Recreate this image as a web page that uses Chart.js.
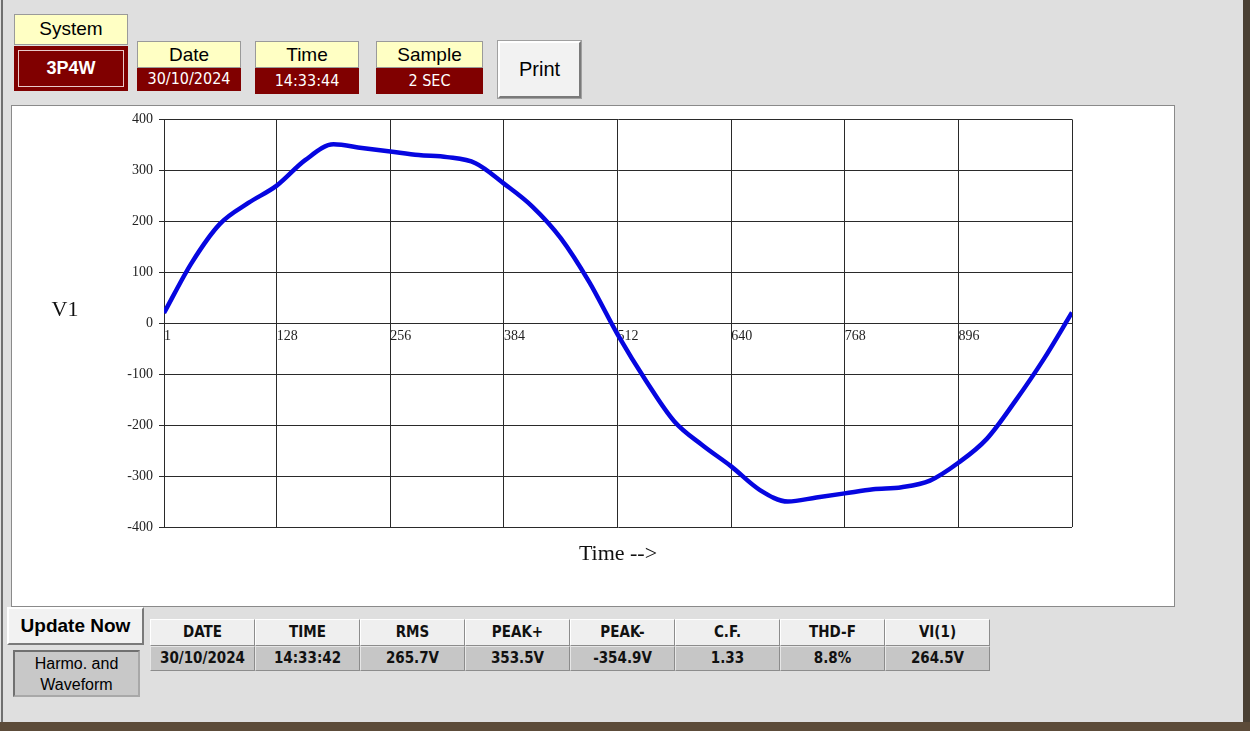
<!DOCTYPE html>
<html>
<head>
<meta charset="utf-8">
<script src="https://cdn.jsdelivr.net/npm/chart.js@4.4.1/dist/chart.umd.min.js"></script>
<style>
  html, body { margin: 0; padding: 0; }
  body { width: 1250px; height: 731px; background: #dfdfdf; position: relative; overflow: hidden; font-family: Arial, "Liberation Sans", sans-serif; }
  .abs { position: absolute; box-sizing: border-box; }
  .lbl { background: #ffffc4; border: 1px solid #9a9a9a; color: #000; text-align: center; font-size: 19px; }
  .val { background: #800000; color: #fff; text-align: center; font-family: "Liberation Sans Narrow", "DejaVu Sans Condensed", Arial, sans-serif; font-size: 16px; }
  .btn { background: #f2f2f2; border: 2px solid; border-color: #ffffff #7a7a7a #7a7a7a #ffffff; outline: 1px solid #a0a0a0; text-align: center; }
  .cell { border: 1px solid; text-align: center; font-family: "Liberation Sans Narrow", "DejaVu Sans Condensed", Arial, sans-serif; font-size: 15px; font-weight: bold; color: #111; }
  .head { background: #efefef; border-color: #ffffff #8c8c8c #8c8c8c #ffffff; }
  .data { background: #c6c6c6; border-color: #e6e6e6 #8c8c8c #8c8c8c #e6e6e6; }
</style>
</head>
<body>
<div class="abs" style="left:1px;top:0;width:2px;height:723px;background:#6f6f6f;"></div>
<div class="abs" style="left:1243px;top:0;width:7px;height:731px;background:#4a4034;"></div>
<div class="abs" style="left:0;top:722px;width:1250px;height:9px;background:#5c4b39;"></div>

<!-- header -->
<div class="abs lbl" style="left:14px;top:14px;width:114px;height:31px;line-height:28px;">System</div>
<div class="abs val" style="left:14px;top:46px;width:114px;height:45px;padding:4px;">
  <div style="border:1px solid #e9c9c9;height:100%;box-sizing:border-box;font-family:Arial,sans-serif;font-weight:bold;font-size:18px;line-height:34px;">3P4W</div>
</div>
<div class="abs lbl" style="left:137px;top:41px;width:104px;height:27px;line-height:25px;">Date</div>
<div class="abs val" style="left:137px;top:68px;width:104px;height:23px;line-height:22px;">30/10/2024</div>
<div class="abs lbl" style="left:255px;top:41px;width:104px;height:27px;line-height:25px;">Time</div>
<div class="abs val" style="left:255px;top:68px;width:104px;height:26px;line-height:25px;">14:33:44</div>
<div class="abs lbl" style="left:376px;top:41px;width:107px;height:27px;line-height:25px;">Sample</div>
<div class="abs val" style="left:376px;top:68px;width:107px;height:26px;line-height:25px;">2 SEC</div>
<div class="abs btn" style="left:498px;top:41px;width:83px;height:57px;line-height:53px;font-size:20px;">Print</div>

<!-- chart panel -->
<div class="abs" style="left:11px;top:105px;width:1164px;height:502px;background:#fff;border:1px solid #8a8a8a;"></div>
<canvas id="wave" class="abs" style="left:11px;top:105px;" width="1163" height="501"></canvas>

<!-- bottom -->
<div class="abs btn" style="left:7px;top:607px;width:137px;height:38px;line-height:34px;font-size:19px;font-weight:bold;outline:none;">Update Now</div>
<div class="abs" style="left:13px;top:650px;width:127px;height:47px;background:#c8c8c8;border:2px solid;border-color:#707070 #a8a8a8 #a8a8a8 #707070;text-align:center;font-size:16px;line-height:21px;padding-top:1px;">Harmo. and<br>Waveform</div>
<div id="table"></div>

<script>
// 波形データ (サンプル番号と電圧)
const sampleIdx = [1, 32, 64, 96, 128, 160, 192, 224, 256, 288, 320, 352, 384, 416, 448, 480, 512,
  544, 576, 608, 640, 672, 704, 736, 768, 800, 832, 864, 896, 928, 960, 992, 1024];
const v1Values = [20, 118, 195, 236, 270, 320, 351, 344, 337, 330, 326, 314, 274, 229, 167, 81, -22,
  -113, -193, -240, -281, -327, -350, -342, -334, -326, -322, -309, -274, -227, -153, -71, 21];
const xTicks = [1, 128, 256, 384, 512, 640, 768, 896, 1024];
const yTicks = [-400, -300, -200, -100, 0, 100, 200, 300, 400];

// 測定値テーブル
const tableHeads = ['DATE', 'TIME', 'RMS', 'PEAK+', 'PEAK-', 'C.F.', 'THD-F', 'VI(1)'];
const tableValues = ['30/10/2024', '14:33:42', '265.7V', '353.5V', '-354.9V', '1.33', '8.8%', '264.5V'];

// テーブルを書き出す
const colLeft = 150, colWidth = 105;
let html = '';
for (let i = 0; i < tableHeads.length; i++) {
  const left = colLeft + i * colWidth;
  html += '<div class="abs cell head" style="left:' + left + 'px;top:619px;width:' + colWidth + 'px;height:27px;line-height:24px;">' + tableHeads[i] + '</div>';
  html += '<div class="abs cell data" style="left:' + left + 'px;top:646px;width:' + colWidth + 'px;height:25px;line-height:22px;">' + tableValues[i] + '</div>';
}
document.getElementById('table').innerHTML = html;

const serif = '"Liberation Serif", "Times New Roman", serif';
const gridColor = '#2a2a2a';

// 軸タイトル
const captions = {
  id: 'captions',
  afterDraw(chart) {
    const c = chart.ctx;
    const area = chart.chartArea;
    const zeroY = chart.scales.y.getPixelForValue(0);
    c.save();
    c.fillStyle = '#111';
    c.font = '22px ' + serif;
    c.textAlign = 'center';
    c.textBaseline = 'middle';
    c.fillText('V1', area.left - 99, zeroY - 13);
    c.fillText('Time -->', (area.left + area.right) / 2, area.bottom + 27);
    c.restore();
  }
};

const chart = new Chart(document.getElementById('wave'), {
  type: 'line',
  data: {
    datasets: [{
      label: 'V1',
      data: sampleIdx.map((s, i) => ({ x: s, y: v1Values[i] })),
      borderColor: '#0606e0',
      borderWidth: 4.5,
      pointRadius: 0,
      cubicInterpolationMode: 'monotone',
      fill: false
    }]
  },
  options: {
    responsive: false,
    animation: false,
    layout: { padding: { left: 93, right: 102, top: 12, bottom: 79 } },
    plugins: { legend: { display: false }, tooltip: { enabled: false } },
    scales: {
      x: {
        type: 'linear',
        min: 1,
        max: 1024,
        position: { y: 0 },
        afterBuildTicks(scale) { scale.ticks = xTicks.map(v => ({ value: v })); },
        ticks: {
          autoSkip: false,
          maxRotation: 0,
          align: 'start',
          padding: 5,
          color: '#222',
          font: { family: serif, size: 14 },
          callback: v => (v === 1024 ? '' : v)
        },
        grid: { color: gridColor, lineWidth: 1, drawTicks: false },
        border: { display: true, color: gridColor }
      },
      y: {
        min: -400,
        max: 400,
        afterFit(scale) { scale.width = 60; },
        afterBuildTicks(scale) { scale.ticks = yTicks.map(v => ({ value: v })); },
        ticks: {
          padding: 6,
          color: '#222',
          font: { family: serif, size: 14 }
        },
        grid: { color: gridColor, lineWidth: 1, drawTicks: true, tickLength: 5 },
        border: { display: true, color: gridColor }
      }
    }
  },
  plugins: [captions]
});
</script>
</body>
</html>
